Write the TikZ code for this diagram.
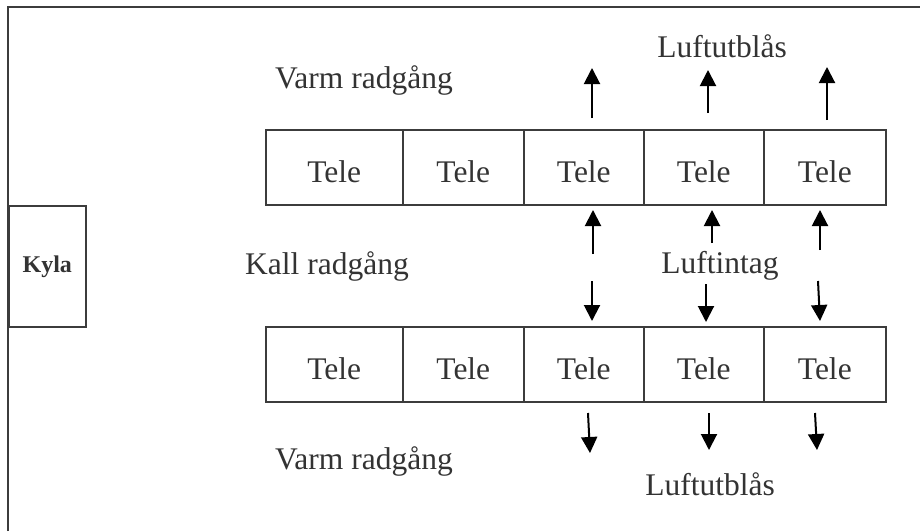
\documentclass[tikz,border=0pt]{standalone}
\usepackage{fontspec}
\setmainfont{Liberation Serif}
\usetikzlibrary{arrows.meta}
\definecolor{ln}{HTML}{3C3C3C}
\definecolor{tx}{HTML}{333333}
\begin{document}
\begin{tikzpicture}[x=1pt,y=-1pt,
  lbl/.style={text=tx,font=\fontsize{31.5}{36}\selectfont,inner sep=0pt,anchor=base west},
  tele/.style={draw=ln,line width=1.6pt,text=tx,font=\fontsize{31.5}{36}\selectfont,
     minimum height=75pt,inner sep=0pt,text height=31pt,text depth=0pt,anchor=north west},
  flow/.style={-{Triangle[length=16pt,width=16pt]},line width=2pt,black}]
\useasboundingbox (0,0) rectangle (920,531);
\draw[ln,line width=2.2pt] (8,531) -- (8,7) -- (920,7);
% Kyla
\node[draw=ln,line width=1.6pt,minimum width=77pt,minimum height=121pt,anchor=north west,
  text=tx,font=\fontsize{24}{27}\selectfont\bfseries,inner sep=0pt] (kyla) at (8,205) {Kyla};
% top row
\node[tele,minimum width=137pt] (t1) at (265,129) {Tele};
\node[tele,minimum width=121pt] (t2) at (402,129) {Tele};
\node[tele,minimum width=120pt] (t3) at (523,129) {Tele};
\node[tele,minimum width=120pt] (t4) at (643,129) {Tele};
\node[tele,minimum width=122pt] (t5) at (763,129) {Tele};
% bottom row
\node[tele,minimum width=137pt] (b1) at (265,326) {Tele};
\node[tele,minimum width=121pt] (b2) at (402,326) {Tele};
\node[tele,minimum width=120pt] (b3) at (523,326) {Tele};
\node[tele,minimum width=120pt] (b4) at (643,326) {Tele};
\node[tele,minimum width=122pt] (b5) at (763,326) {Tele};
% labels
\node[lbl] (vr1) at (275,88) {Varm radgång};
\node[lbl] (kr) at (245,274) {Kall radgång};
\node[lbl] (vr2) at (275,469) {Varm radgång};
\node[lbl,anchor=base] (lu1) at (722,57) {Luftutblås};
\node[lbl,anchor=base] (li) at (720,273) {Luftintag};
\node[lbl,anchor=base] (lu2) at (710,495) {Luftutblås};
% arrow coordinates
\coordinate (a1s) at (592,118); \coordinate (a1e) at (592,68);
\coordinate (a2s) at (708,113); \coordinate (a2e) at (708,70);
\coordinate (a3s) at (827,120); \coordinate (a3e) at (827,67);
\coordinate (m1s) at (593,254); \coordinate (m1e) at (593,210);
\coordinate (m2s) at (712,243); \coordinate (m2e) at (712,210);
\coordinate (m3s) at (820,250); \coordinate (m3e) at (820,210);
\coordinate (d1s) at (592,281); \coordinate (d1e) at (592,321);
\coordinate (d2s) at (706,284); \coordinate (d2e) at (706,322);
\coordinate (d3s) at (818,281); \coordinate (d3e) at (820,321);
\coordinate (e1s) at (588,413); \coordinate (e1e) at (590,453);
\coordinate (e2s) at (709,413); \coordinate (e2e) at (709,450);
\coordinate (e3s) at (815,413); \coordinate (e3e) at (817,450);
\foreach \p in {a1,a2,a3,m1,m2,m3,d1,d2,d3,e1,e2,e3}
  \draw[flow] (\p s) -- (\p e);
\end{tikzpicture}
\end{document}
